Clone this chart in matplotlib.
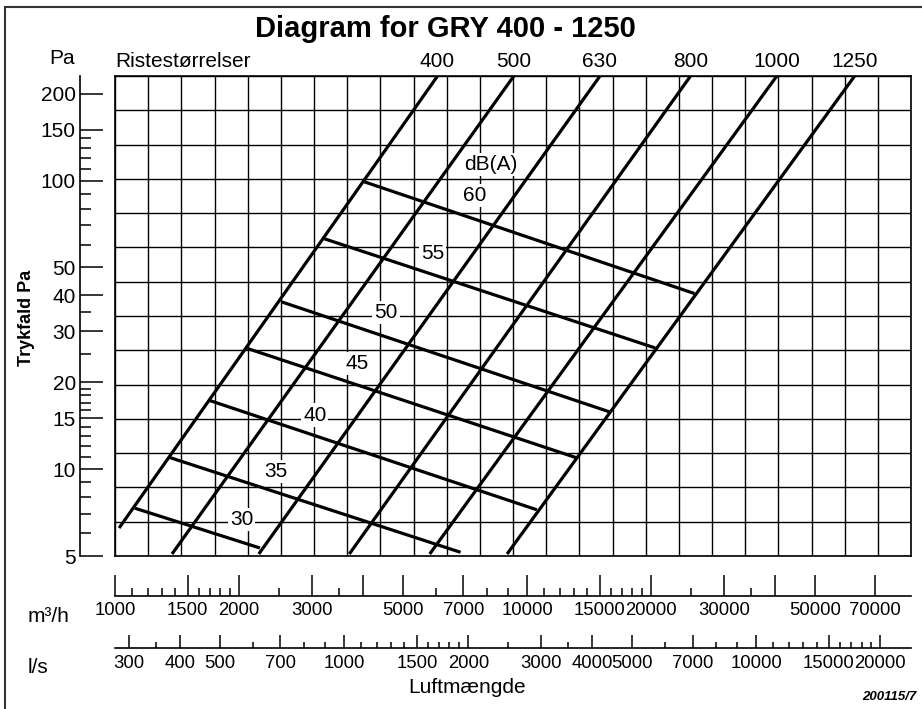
import numpy as np
import matplotlib.pyplot as plt
from matplotlib.patches import Rectangle
from matplotlib.ticker import NullFormatter

plt.rcParams['font.family'] = ['Liberation Sans', 'DejaVu Sans']

# Ristestørrelser - linjer aflæst som endepunkter (m3/h, Pa)
sizes = ['400', '500', '630', '800', '1000', '1250']
size_q_low = [1023, 1375, 2233, 3703, 5803, 8941]
size_pa_low = [6.25, 5.08, 5.08, 5.08, 5.08, 5.08]
size_q_high = [6058, 9279, 15015, 24900, 40320, 62300]
size_pa_high = [230, 230, 230, 230, 230, 230]

# Lydniveau dB(A)
db_levels = ['60', '55', '50', '45', '40', '35', '30']
db_q_start = [4030, 3196, 2535, 2095, 1696, 1361, 1118]
db_pa_start = [99.0, 63.1, 38.0, 26.2, 17.3, 10.96, 7.32]
db_q_end = [25480, 20460, 15840, 13150, 10560, 6895, 2248]
db_pa_end = [40.6, 26.3, 15.8, 10.96, 7.23, 5.15, 5.33]
db_label_q = [7453, 5891, 4543, 3862, 3052, 2457, 2030]
db_label_pa = [89.0, 55.9, 34.8, 23.2, 15.4, 9.8, 6.67]

# Akser
pa_major = [5, 10, 15, 20, 30, 40, 50, 100, 150, 200]
pa_minor = [6, 7, 8, 9, 11, 12, 13, 14, 16, 17, 18, 19, 25, 35,
            60, 70, 80, 90, 110, 120, 130, 140]
m3h_major = [1000, 1500, 2000, 3000, 4000, 5000, 7000, 10000, 15000,
             20000, 30000, 40000, 50000, 70000]
m3h_labels = ['1000', '1500', '2000', '3000', '', '5000', '7000', '10000',
              '15000', '20000', '30000', '', '50000', '70000']
m3h_minor = [1100, 1200, 1300, 1400, 1600, 1700, 1800, 1900, 2500, 3500,
             6000, 8000, 9000, 11000, 12000, 13000, 14000, 16000, 17000,
             18000, 19000, 25000, 35000]
ls_major = [300, 400, 500, 700, 1000, 1500, 2000, 3000, 4000, 5000, 7000,
            10000, 15000, 20000]
ls_minor = [350, 600, 800, 900, 1100, 1200, 1300, 1400, 1600, 1700, 1800,
            1900, 2500, 3500, 6000, 8000, 9000, 11000, 12000, 13000, 14000,
            16000, 17000, 18000, 19000]

W, H = 922, 709
fig = plt.figure(figsize=(W / 100, H / 100), dpi=100)
pos = [115 / W, 1 - 556 / H, 796 / W, 480 / H]

# baggrundsgitter
gax = fig.add_axes(pos, zorder=0)
gax.set_xlim(0, 24)
gax.set_ylim(0, 14)
gax.set_xticks(range(25))
gax.set_yticks(range(15))
gax.grid(True, color='black', lw=1.0)
gax.tick_params(length=0, labelbottom=False, labelleft=False)
for s in gax.spines.values():
    s.set_linewidth(1.2)

ax = fig.add_axes(pos, zorder=2)
ax.set_facecolor('none')
ax.set_xscale('log')
ax.set_yscale('log')
ax.set_xlim(1022.6, 85420)
ax.set_ylim(5.08, 230.4)

for i in range(len(sizes)):
    ax.plot([size_q_low[i], size_q_high[i]], [size_pa_low[i], size_pa_high[i]],
            color='black', lw=2.3, solid_capstyle='butt', zorder=2)
    ax.text(size_q_high[i], 1.0187, sizes[i], transform=ax.get_xaxis_transform(),
            ha='center', va='baseline', fontsize=15, clip_on=False)

for i in range(len(db_levels)):
    ax.plot([db_q_start[i], db_q_end[i]], [db_pa_start[i], db_pa_end[i]],
            color='black', lw=2.3, solid_capstyle='butt', zorder=2)
    ax.text(db_label_q[i], db_label_pa[i], db_levels[i], ha='center', va='center',
            fontsize=15, zorder=4,
            bbox=dict(facecolor='white', edgecolor='none', pad=1.5))
ax.text(8154, 113.6, 'dB(A)', ha='center', va='center', fontsize=15, zorder=4,
        bbox=dict(facecolor='white', edgecolor='none', pad=1.5))

# y-akse (Pa)
for s in ['top', 'right']:
    ax.spines[s].set_visible(False)
ax.spines['left'].set_position(('outward', 25.2))
ax.spines['left'].set_bounds(5, 230.4)
ax.spines['left'].set_linewidth(1.2)
ax.set_yticks(pa_major, [str(v) for v in pa_major])
ax.set_yticks(pa_minor, minor=True)
ax.yaxis.set_minor_formatter(NullFormatter())
ax.tick_params(axis='y', which='major', direction='in', length=16.5, width=1.1,
               pad=3, labelsize=15)
ax.tick_params(axis='y', which='minor', direction='in', length=7.7, width=1.1)

# x-akse (m3/h)
ax.spines['bottom'].set_position(('outward', 28.8))
ax.spines['bottom'].set_linewidth(1.2)
ax.set_xticks(m3h_major, m3h_labels)
ax.set_xticks(m3h_minor, minor=True)
ax.xaxis.set_minor_formatter(NullFormatter())
ax.tick_params(axis='x', which='major', direction='in', length=15, width=1.1,
               pad=4.5, labelsize=13.3)
ax.tick_params(axis='x', which='minor', direction='in', length=5.5, width=1.1)

# sekundær x-akse (l/s)
sec = ax.secondary_xaxis(-(648.3 - 556) / 480,
                         functions=(lambda q: q / 3.6, lambda l: l * 3.6))
sec.set_xticks(ls_major, [str(v) for v in ls_major])
sec.set_xticks(ls_minor, minor=True)
sec.xaxis.set_minor_formatter(NullFormatter())
sec.spines['bottom'].set_linewidth(1.2)
sec.tick_params(axis='x', which='major', direction='in', length=9.4, width=1.1,
                pad=4.5, labelsize=13.3)
sec.tick_params(axis='x', which='minor', direction='in', length=4.5, width=1.1)

# tekster
fig.text(445 / W, 1 - 37.3 / H, 'Diagram for GRY 400 - 1250', ha='center',
         va='baseline', fontsize=21, fontweight='bold')
fig.text(62.5 / W, 1 - 63.5 / H, 'Pa', ha='center', va='baseline', fontsize=15)
fig.text(115 / W, 1 - 67 / H, 'Ristestørrelser', ha='left', va='baseline', fontsize=15)
fig.text(26.7 / W, 1 - 318 / H, 'Trykfald Pa', rotation=90, ha='center',
         va='center', fontsize=13, fontweight='bold')
fig.text(28 / W, 1 - 621.7 / H, 'm³/h', ha='left', va='baseline', fontsize=15)
fig.text(28 / W, 1 - 673.3 / H, 'l/s', ha='left', va='baseline', fontsize=15)
fig.text(466.7 / W, 1 - 692.7 / H, 'Luftmængde', ha='center', va='baseline', fontsize=15)
fig.text(916 / W, 1 - 700 / H, '200115/7', ha='right', va='baseline', fontsize=9.5,
         fontweight='bold', fontstyle='italic')

fig.add_artist(Rectangle((5 / W, -0.01), 1.01, 1 - 7 / H + 0.01,
                         transform=fig.transFigure, fill=False, lw=1.5,
                         edgecolor='#333333'))

fig.savefig('out.png', dpi=100)
